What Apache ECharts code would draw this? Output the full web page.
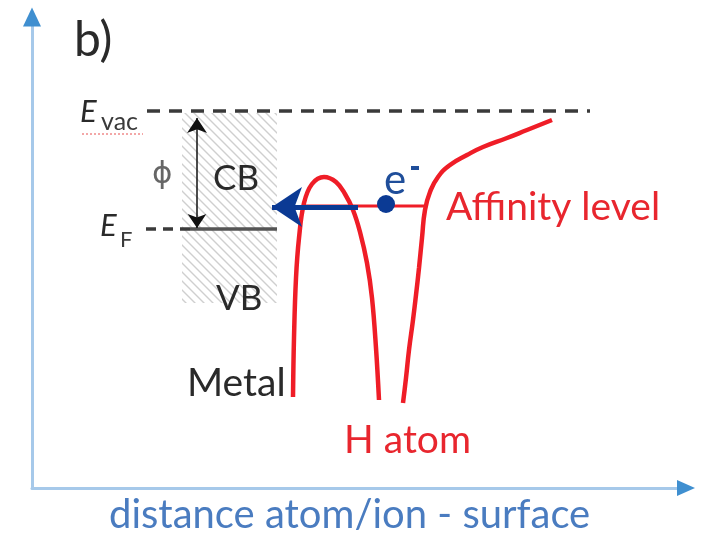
<!DOCTYPE html>
<html><head><meta charset="utf-8">
<script src="https://cdn.jsdelivr.net/npm/echarts@6/dist/echarts.min.js"></script>
<style>html,body{margin:0;padding:0;background:#fff}#c{width:702px;height:540px}</style>
</head><body><div id="c"></div>
<script>
// Schematic potential-energy diagram (arbitrary units: distance x, energy y)
const barrierCurve = [[261,91],[262,150],[264,210],[267,250],[272,285],[280,304],[292,311],[304,306],[313,294],[321,278],[328,256],[335,225],[340,190],[344,140],[347,88]];
const atomWall = [[371,85],[374,110],[377,138],[381,168],[384,193],[387,220],[390,250],[393,278],[398,296],[406,311],[418,323],[435,333],[451,341],[475,350],[495,358],[520,368]];
const vacuumLevel = [[115,377],[558,377]];
const fermiDashed = [[114,259],[158,259]];
const fermiSolid = [[158,259],[245,259]];
const affinityLevel = [[272,282],[393,282]];
const transferArrow = [[326,281],[240,281]];
const workFunctionArrow = [[165,260],[165,370]];
const electron = [[354,284]];
const bandRegion = [[150,375],[245,185]];
const axisEnds = {x:[654,0], y:[0,471]};

const RED = '#ef1d27', NAVY = '#0b3a94', AX = '#a6c9ea', AXH = '#3f8fd0';

function hatch(){
  const c = document.createElement('canvas'); c.width = 9; c.height = 9;
  const g = c.getContext('2d');
  g.strokeStyle = '#cfcfcf'; g.lineWidth = 1.4;
  g.beginPath(); g.moveTo(-1,-1); g.lineTo(10,10); g.moveTo(-1,8); g.lineTo(1,10); g.moveTo(8,-1); g.lineTo(10,1); g.stroke();
  return c;
}

const chart = echarts.init(document.getElementById('c'), null, {renderer:'canvas'});
const FONT = 'Lato';
function txt(text, x, y, size, color, extra){
  return {type:'text', x:x, y:y, z:10, style:Object.assign({text:text, fontFamily:FONT, fontSize:size, fill:color, textVerticalAlign:'middle', textAlign:'left'}, extra||{})};
}
const option = {
  animation:false,
  grid:{left:32, right:16, top:17, bottom:52},
  xAxis:{type:'value', min:0, max:654, axisLine:{show:true, onZero:false, lineStyle:{color:AX, width:3}}, axisTick:{show:false}, axisLabel:{show:false}, splitLine:{show:false}},
  yAxis:{type:'value', min:0, max:471, axisLine:{show:true, onZero:false, lineStyle:{color:AX, width:3}}, axisTick:{show:false}, axisLabel:{show:false}, splitLine:{show:false}},
  series:[
    {type:'line', data:[], markArea:{silent:true, itemStyle:{color:{image:hatch(), repeat:'repeat'}}, data:[[{coord:bandRegion[0]},{coord:bandRegion[1]}]]}},
    {type:'line', data:vacuumLevel, symbol:'none', lineStyle:{color:'#3a3a3a', width:3.5, type:[13,9]}},
    {type:'line', data:fermiDashed, symbol:'none', lineStyle:{color:'#3a3a3a', width:3.5, type:[10,7]}},
    {type:'line', data:fermiSolid, symbol:'none', lineStyle:{color:'#555', width:3.5}},
    {type:'line', data:affinityLevel, symbol:'none', lineStyle:{color:RED, width:3}},
    {type:'line', data:barrierCurve, symbol:'none', smooth:0.4, lineStyle:{color:RED, width:4.5}, z:3},
    {type:'line', data:atomWall, symbol:'none', smooth:0.5, lineStyle:{color:RED, width:4.5}, z:3},
    {type:'lines', coordinateSystem:'cartesian2d', z:4, symbol:['none','arrow'], symbolSize:[16,30], lineStyle:{color:NAVY, width:5, opacity:1}, data:[{coords:transferArrow}]},
    {type:'lines', coordinateSystem:'cartesian2d', z:4, symbol:['arrow','arrow'], symbolSize:[14,15], lineStyle:{color:'#111', width:1.5, opacity:1}, data:[{coords:workFunctionArrow}]},
    {type:'scatter', data:electron, symbol:'circle', symbolSize:18, itemStyle:{color:NAVY, opacity:1}, z:5},
    {type:'scatter', data:[axisEnds.x], symbol:'triangle', symbolRotate:-90, symbolSize:[16,18], itemStyle:{color:AXH, opacity:1}, clip:false, z:6},
    {type:'scatter', data:[axisEnds.y], symbol:'triangle', symbolSize:[18,19], itemStyle:{color:AXH, opacity:1}, clip:false, z:6}
  ],
  graphic:[
    txt('b)', 74, 41, 48, '#2a2a2a'),
    txt('E', 80, 112, 31, '#2a2a2a', {fontStyle:'italic'}),
    txt('vac', 101, 122, 25, '#3a3a3a'),
    {type:'line', shape:{x1:82,y1:134,x2:143,y2:134}, style:{stroke:'#f08a8a', lineWidth:1.5, lineDash:[2,2]}},
    txt('E', 100, 226, 31, '#2a2a2a', {fontStyle:'italic'}),
    txt('F', 120, 240, 22, '#3a3a3a'),
    txt('\u03d5', 152, 175, 31, '#666', {fontFamily:'DejaVu Sans'}),
    txt('CB', 213, 179, 35, '#2a2a2a'),
    txt('VB', 216, 299, 35, '#2a2a2a'),
    txt('Metal', 187, 383, 39, '#2a2a2a'),
    txt('e', 384, 180, 42, '#1f4e9a'),
    {type:'rect', shape:{x:411, y:166, width:8, height:4}, style:{fill:'#1f4e9a'}, z:10},
    txt('Affinity level', 446, 207, 39, '#e8262e'),
    txt('H atom', 344, 440, 39, '#e8262e'),
    txt('distance atom/ion - surface', 109, 515, 40, '#4a7cc0')
  ]
};
chart.setOption(option);
</script></body></html>
